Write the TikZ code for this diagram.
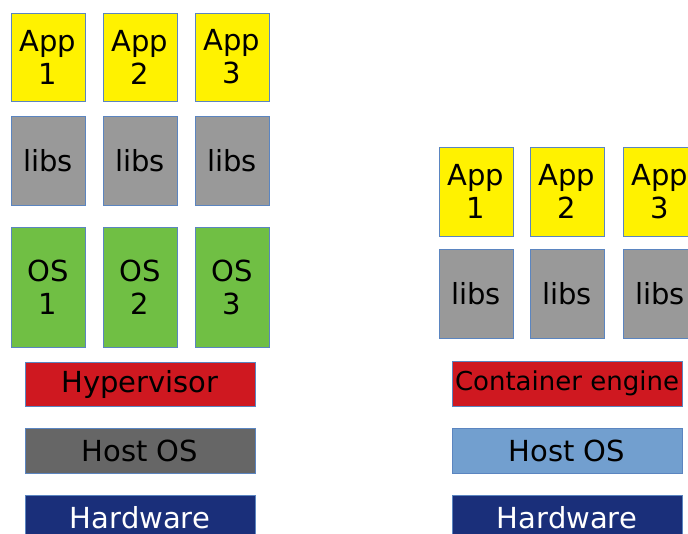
\documentclass[tikz,border=0pt]{standalone}
\usepackage{fontspec}
\setmainfont{DejaVu Sans}
\definecolor{appY}{HTML}{FFF200}
\definecolor{libG}{HTML}{999999}
\definecolor{osG}{HTML}{70BF44}
\definecolor{hypR}{HTML}{CF1820}
\definecolor{hostG}{HTML}{666666}
\definecolor{hostB}{HTML}{729FCF}
\definecolor{hwN}{HTML}{1A2F7A}
\definecolor{edgeB}{HTML}{5B85C0}
\begin{document}
\begin{tikzpicture}[x=1pt,y=-1pt,
  layer/.style={draw=edgeB, line width=0.8pt, inner sep=0pt, align=center,
    font=\fontsize{29}{33}\selectfont},
  smallbox/.style={layer, minimum width=74pt},
  appbox/.style={smallbox, fill=appY, minimum height=88pt},
  libbox/.style={smallbox, fill=libG, minimum height=89pt},
  osbox/.style={smallbox, fill=osG, minimum height=120pt},
  wide/.style={layer, minimum width=230pt, minimum height=45pt},
  hyper/.style={wide, fill=hypR, minimum height=44pt},
  hostos/.style={wide, fill=hostG},
  hostosb/.style={wide, fill=hostB},
  hw/.style={wide, fill=hwN, text=white}]
\useasboundingbox (0,0) rectangle (688,533);
% left stack
\node[appbox] (la1) at (48,57) {App\\1};
\node[appbox] (la2) at (140,57) {App\\2};
\node[appbox] (la3) at (232,57) {App\\3};
\node[libbox] (ll1) at (48,160.5) {libs};
\node[libbox] (ll2) at (140,160.5) {libs};
\node[libbox] (ll3) at (232,160.5) {libs};
\node[osbox] (lo1) at (48,287) {OS\\1};
\node[osbox] (lo2) at (140,287) {OS\\2};
\node[osbox] (lo3) at (232,287) {OS\\3};
\node[hyper] (hyp) at (140,384) {Hypervisor};
\node[hostos] (lhost) at (140,450.5) {Host OS};
\node[hw] (lhw) at (140,517.5) {Hardware};
% right stack
\node[appbox, minimum height=89pt] (ra1) at (476,191.5) {App\\1};
\node[appbox, minimum height=89pt] (ra2) at (567,191.5) {App\\2};
\node[appbox, minimum height=89pt] (ra3) at (660,191.5) {App\\3};
\node[libbox] (rl1) at (476,293.5) {libs};
\node[libbox] (rl2) at (567,293.5) {libs};
\node[libbox] (rl3) at (660,293.5) {libs};
\node[hyper, minimum height=45pt, font=\fontsize{26}{30}\selectfont] (ce) at (567,383.5) {Container engine};
\node[hostosb] (rhost) at (567,450.5) {Host OS};
\node[hw] (rhw) at (567,517.5) {Hardware};
\end{tikzpicture}
\end{document}
